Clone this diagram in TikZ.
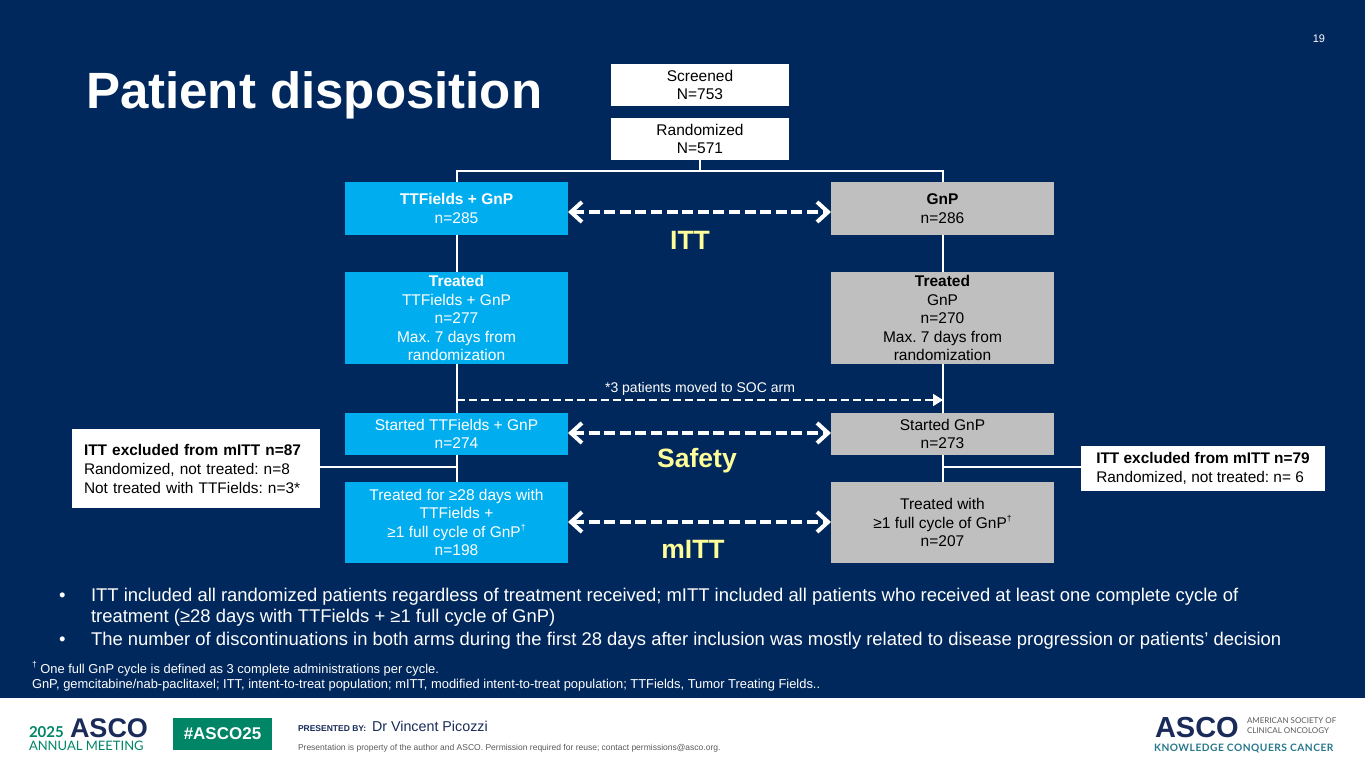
\documentclass[tikz,border=0pt]{standalone}
\usepackage{fontspec}
\setmainfont{Liberation Sans}
\newfontfamily\latofont{Lato}
\usetikzlibrary{arrows.meta}
\AtBeginDocument{\frenchspacing}
\definecolor{navybg}{RGB}{0,40,92}
\definecolor{cyanbox}{RGB}{0,174,239}
\definecolor{greybox}{RGB}{191,191,191}
\definecolor{yellowlab}{RGB}{255,255,153}
\definecolor{ascogreen}{RGB}{0,133,102}
\definecolor{asconavy}{RGB}{26,43,90}
\definecolor{ascoteal}{RGB}{40,120,140}
\definecolor{footgrey}{RGB}{90,90,90}
\newcommand{\dagmark}{\raisebox{0.42em}{\fontsize{8.5}{9}\selectfont †}}
\tikzset{
  x=1pt,y=-1pt,
  txt/.style={inner sep=0pt,outer sep=0pt,align=left},
  boxbase/.style={inner sep=0pt,outer sep=0pt,align=center,font=\fontsize{15.5}{18.5}\selectfont},
  whitebox/.style={boxbase,fill=white,text=black},
  cyan box/.style={boxbase,fill=cyanbox,text=white},
  grey box/.style={boxbase,fill=greybox,text=black},
  exclbox/.style={inner sep=0pt,outer sep=0pt,fill=white,text=black,align=left,font=\fontsize{15.4}{19}\selectfont},
  flow/.style={draw=white,line width=1.8pt},
  popline/.style={draw=white,line width=4pt,dash pattern=on 11pt off 4.6pt,{Straight Barb[length=11pt,width=20pt,line width=4pt]}-{Straight Barb[length=11pt,width=20pt,line width=4pt]}},
  socline/.style={draw=white,line width=1.7pt,dash pattern=on 7.5pt off 4.5pt,-{Triangle[length=10pt,width=12pt,fill=white]}},
  poplabel/.style={txt,text=yellowlab,font=\fontsize{26.5}{30}\selectfont\bfseries},
  bullet line/.style={txt,text=white,font=\fontsize{18.43}{21}\selectfont,anchor=base west},
  foot line/.style={txt,text=white,font=\fontsize{12.9}{14}\selectfont,anchor=base west},
}
\newcommand{\boxat}[7]{\node[#1,minimum width=#4-#3,minimum height=#6-#5] (#2) at ({(#3+#4)/2},{(#5+#6)/2}) {#7};}
\begin{document}
\begin{tikzpicture}
\useasboundingbox (0,0) rectangle (1365,768);
\fill[navybg] (0,0) rectangle (1365,698);
\fill[white] (0,698) rectangle (1365,768);

\node[txt,text=white,font=\fontsize{51}{56}\selectfont\bfseries,anchor=base west] (title) at (86,108) {Patient disposition};
\node[txt,text=white,font=\fontsize{11}{13}\selectfont,anchor=base east] (pageno) at (1325,43) {19};

% junction coordinates
\coordinate (jrand) at (700,171);
\coordinate (jl) at (457,171);
\coordinate (jr) at (943,171);
\coordinate (soc0) at (457,400);
\coordinate (soc1) at (943,400);
\coordinate (exl) at (457,467);
\coordinate (exr) at (943,467);

\boxat{whitebox}{screened}{611}{789}{64}{106}{Screened\\N=753}
\boxat{whitebox}{randomized}{611}{789}{118}{160}{Randomized\\N=571}

\boxat{cyan box}{ttf}{345}{568}{182}{235}{\textbf{TTFields + GnP}\\n=285}
\boxat{grey box}{gnp}{831}{1054}{182}{235}{\textbf{GnP}\\n=286}
\boxat{cyan box}{ttftreated}{345}{568}{272}{364}{\textbf{Treated}\\TTFields + GnP\\n=277\\Max. 7 days from\\randomization}
\boxat{grey box}{gnptreated}{831}{1054}{272}{364}{\textbf{Treated}\\GnP\\n=270\\Max. 7 days from\\randomization}
\boxat{cyan box}{ttfstart}{345}{568}{413}{455}{Started TTFields + GnP\\n=274}
\boxat{grey box}{gnpstart}{831}{1054}{413}{455}{Started GnP\\n=273}
\boxat{cyan box}{ttfcycle}{345}{568}{482}{563}{Treated for ≥28 days with\\TTFields +\\≥1 full cycle of GnP\dagmark\\n=198}
\boxat{grey box}{gnpcycle}{831}{1054}{482}{563}{Treated with\\≥1 full cycle of GnP\dagmark\\n=207}

\boxat{exclbox,text width=224pt}{exclleft}{72}{320}{429}{508}{\textbf{ITT excluded from mITT n=87}\\Randomized, not treated: n=8\\Not treated with TTFields: n=3*}
\boxat{exclbox}{exclright}{1081}{1325}{446}{491}{\textbf{ITT excluded from mITT n=79}\\Randomized, not treated: n= 6}

% flow lines
\draw[flow] (randomized.south) -- (jrand);
\draw[flow] (ttf.north -| jl) -- (jl) -- (jr) -- (gnp.north -| jr);
\draw[flow] (ttf.south -| jl) -- (ttftreated.north -| jl);
\draw[flow] (gnp.south -| jr) -- (gnptreated.north -| jr);
\draw[flow] (ttftreated.south -| jl) -- (ttfstart.north -| jl);
\draw[flow] (gnptreated.south -| jr) -- (gnpstart.north -| jr);
\draw[flow] (ttfstart.south -| jl) -- (ttfcycle.north -| jl);
\draw[flow] (gnpstart.south -| jr) -- (gnpcycle.north -| jr);
\draw[flow] (exclleft.east |- exl) -- (exl);
\draw[flow] (exclright.west |- exr) -- (exr);

\draw[socline] (soc0) -- (soc1);
\node[txt,text=white,font=\fontsize{14}{16}\selectfont,anchor=base] (soclabel) at (700,392) {*3 patients moved to SOC arm};

\draw[popline] (ttf.east |- 0,212) -- (gnp.west |- 0,212);
\draw[popline] (ttfstart.east |- 0,433) -- (gnpstart.west |- 0,433);
\draw[popline] (ttfcycle.east |- 0,522) -- (gnpcycle.west |- 0,522);
\node[poplabel,anchor=base] (ittlabel) at (690,249) {ITT};
\node[poplabel,anchor=base] (safetylabel) at (697,467) {Safety};
\node[poplabel,anchor=base] (mittlabel) at (693,558) {mITT};

% bullets
\node[bullet line] (b1) at (59,601) {•};
\node[bullet line] (l1) at (91,601) {ITT included all randomized patients regardless of treatment received; mITT included all patients who received at least one complete cycle of};
\node[bullet line] (l2) at (91,622) {treatment (≥28 days with TTFields + ≥1 full cycle of GnP)};
\node[bullet line] (b2) at (59,645) {•};
\node[bullet line] (l3) at (91,645) {The number of discontinuations in both arms during the first 28 days after inclusion was mostly related to disease progression or patients’ decision};

% footnotes
\node[foot line] (fn1) at (32,673) {\dagmark\ One full GnP cycle is defined as 3 complete administrations per cycle.};
\node[foot line] (fn2) at (32,688) {GnP, gemcitabine/nab-paclitaxel; ITT, intent-to-treat population; mITT, modified intent-to-treat population; TTFields, Tumor Treating Fields..};

% footer left
\node[txt,text=ascogreen,font=\latofont\fontsize{15}{18}\selectfont\bfseries,anchor=base west] (yr) at (29,737) {2025};
\node[txt,text=asconavy,font=\fontsize{27}{30}\selectfont\bfseries,anchor=base west] (asco1) at (70,737) {ASCO};
\node[txt,text=ascogreen,font=\latofont\fontsize{13}{16}\selectfont,anchor=base west] (annual) at (29,750) {ANNUAL MEETING};
\fill[ascogreen] (173,718) rectangle (272,750);
\node[txt,text=white,font=\fontsize{17}{19}\selectfont\bfseries,anchor=center] (tag) at (222.5,734) {\#ASCO25};
\node[txt,text=asconavy,font=\fontsize{8.5}{10}\selectfont\bfseries,anchor=base west] (presby) at (298,731) {PRESENTED BY:};
\node[txt,text=asconavy,font=\fontsize{14.3}{16}\selectfont,anchor=base west] (presenter) at (372,731) {Dr Vincent Picozzi};
\node[txt,text=footgrey,font=\fontsize{8.5}{10}\selectfont,anchor=base west] (prop) at (298,750) {Presentation is property of the author and ASCO. Permission required for reuse; contact permissions@asco.org.};

% footer right
\node[txt,text=asconavy,font=\fontsize{29}{32}\selectfont\bfseries,anchor=base west] (asco2) at (1155,737) {ASCO};
\node[txt,text=footgrey,font=\latofont\fontsize{8}{9.4}\selectfont,anchor=north west] (aso) at (1247,718) {AMERICAN SOCIETY OF\\CLINICAL ONCOLOGY};
\node[txt,text=ascoteal,font=\latofont\addfontfeature{LetterSpace=5}\fontsize{10.2}{12}\selectfont\bfseries,anchor=base west] (kcc) at (1154,751) {KNOWLEDGE CONQUERS CANCER};
\end{tikzpicture}
\end{document}
